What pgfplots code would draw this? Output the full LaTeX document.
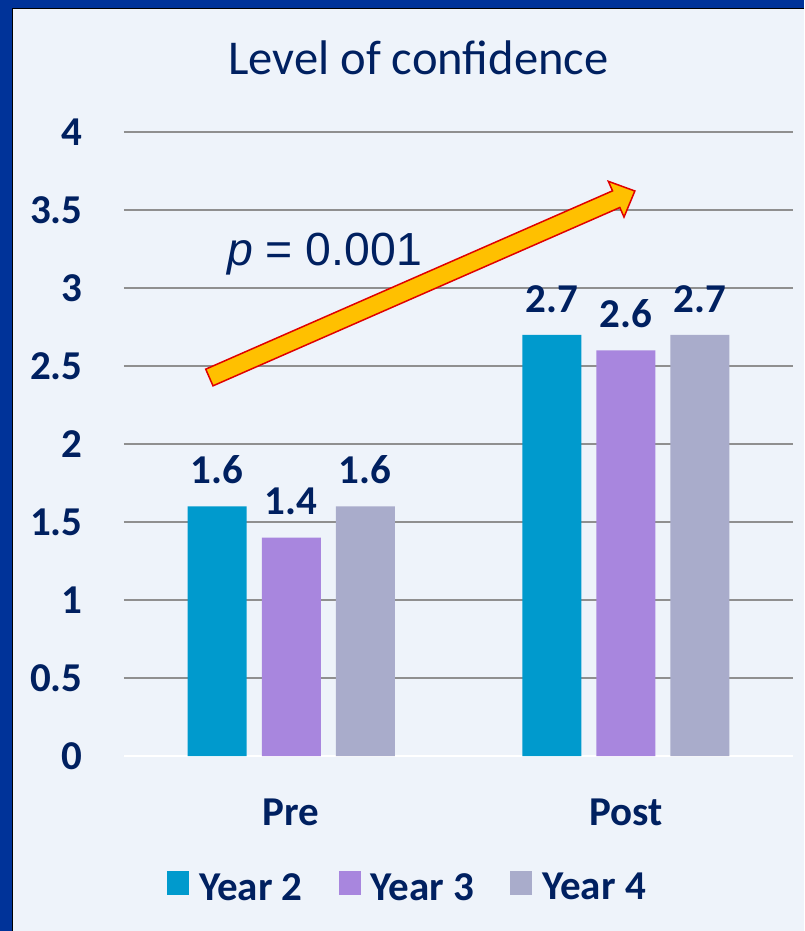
\documentclass[border=0pt]{standalone}
\usepackage{pgfplots}
\pgfplotsset{compat=1.18}
\usepackage{fontspec}
\setmainfont{Carlito}
\newfontfamily\arialfont{Liberation Sans}
\definecolor{navy}{HTML}{002060}
\definecolor{bgc}{HTML}{EEF3FA}
\definecolor{frameblue}{HTML}{003399}
\definecolor{cA}{HTML}{009ACD}
\definecolor{cB}{HTML}{A886DE}
\definecolor{cC}{HTML}{A9ACCB}
\definecolor{gridc}{HTML}{8F8F8F}
\definecolor{arrowy}{HTML}{FFC000}
\definecolor{arrowr}{HTML}{E00000}
\begin{document}
\begin{tikzpicture}
\fill[bgc] (0,0) rectangle (402pt,-465.5pt);
\fill[frameblue] (0,0) rectangle (6pt,-465.5pt);
\fill[frameblue] (0,0) rectangle (402pt,-3.8pt);
\draw[black, line width=0.7pt] (6.35pt,-465.5pt) -- (6.35pt,-4.15pt) -- (402pt,-4.15pt);
\node[anchor=base, font=\fontsize{24.3}{28}\selectfont, text=navy, inner sep=0pt] at (209.25pt,-37.5pt) {Level of confidence};
\begin{axis}[
  at={(62pt,-378pt)}, anchor=south west,
  scale only axis, width=334.5pt, height=312pt,
  xmin=-0.5, xmax=1.5, ymin=0, ymax=4,
  clip=false,
  ybar=7.5pt, bar width=29.5pt,
  axis line style={draw=none},
  major tick length=0pt,
  xtick={0,1}, xticklabels={Pre,Post},
  ytick={0,0.5,1,1.5,2,2.5,3,3.5,4},
  yticklabels={0,0.5,1,1.5,2,2.5,3,3.5,4},
  ymajorgrids, grid style={gridc, line width=1pt},
  tick label style={font=\fontsize{20.5}{24}\selectfont\bfseries, text=navy},
  yticklabel style={anchor=east, inner sep=0pt, xshift=-20.5pt},
  xticklabel style={anchor=base, inner sep=0pt, yshift=-34.5pt},
  /pgf/number format/assume math mode=true,
  nodes near coords,
  every node near coord/.append style={font=\fontsize{20.5}{24}\selectfont\bfseries, text=navy, anchor=south, inner sep=0pt, yshift=11pt},
  legend columns=3,
  legend image code/.code={\fill[#1] (0pt,-3.4pt) rectangle (11pt,8.6pt);},
  legend style={draw=none, fill=none, at={(0.4223,-0.2099)}, anchor=center,
    font=\fontsize{20.5}{24}\selectfont\bfseries, text=navy,
    nodes={inner sep=0pt},
    /tikz/every odd column/.append style={column sep=5pt},
    /tikz/every even column/.append style={column sep=18pt}},
]
\draw[white, line width=1.2pt] (axis cs:-0.5,0) -- (axis cs:1.5,0);
\addplot[fill=cA, draw=none] coordinates {(0,1.6) (1,2.7)};
\addplot[fill=cB, draw=none] coordinates {(0,1.4) (1,2.6)};
\addplot[fill=cC, draw=none] coordinates {(0,1.6) (1,2.7)};
\legend{Year 2, Year 3, Year 4}
\begin{scope}[shift={(axis cs:-0.2448,2.4263)}, rotate=23.67]
\filldraw[fill=arrowy, draw=arrowr, line width=0.75pt, line join=miter]
  (0pt,-4.55pt) -- (222.1pt,-4.55pt) -- (222.1pt,-9.75pt) -- (232.3pt,0pt)
  -- (222.1pt,9.75pt) -- (222.1pt,4.55pt) -- (0pt,4.55pt) -- cycle;
\end{scope}
\node[anchor=base west, inner sep=0pt, font=\arialfont\fontsize{23.2}{27}\selectfont, text=navy] at (axis cs:-0.1925,3.147) {\textit{p} = 0.001};
\end{axis}
\pgfresetboundingbox
\path[use as bounding box] (0,0) rectangle (402pt,-465.5pt);
\end{tikzpicture}
\end{document}
